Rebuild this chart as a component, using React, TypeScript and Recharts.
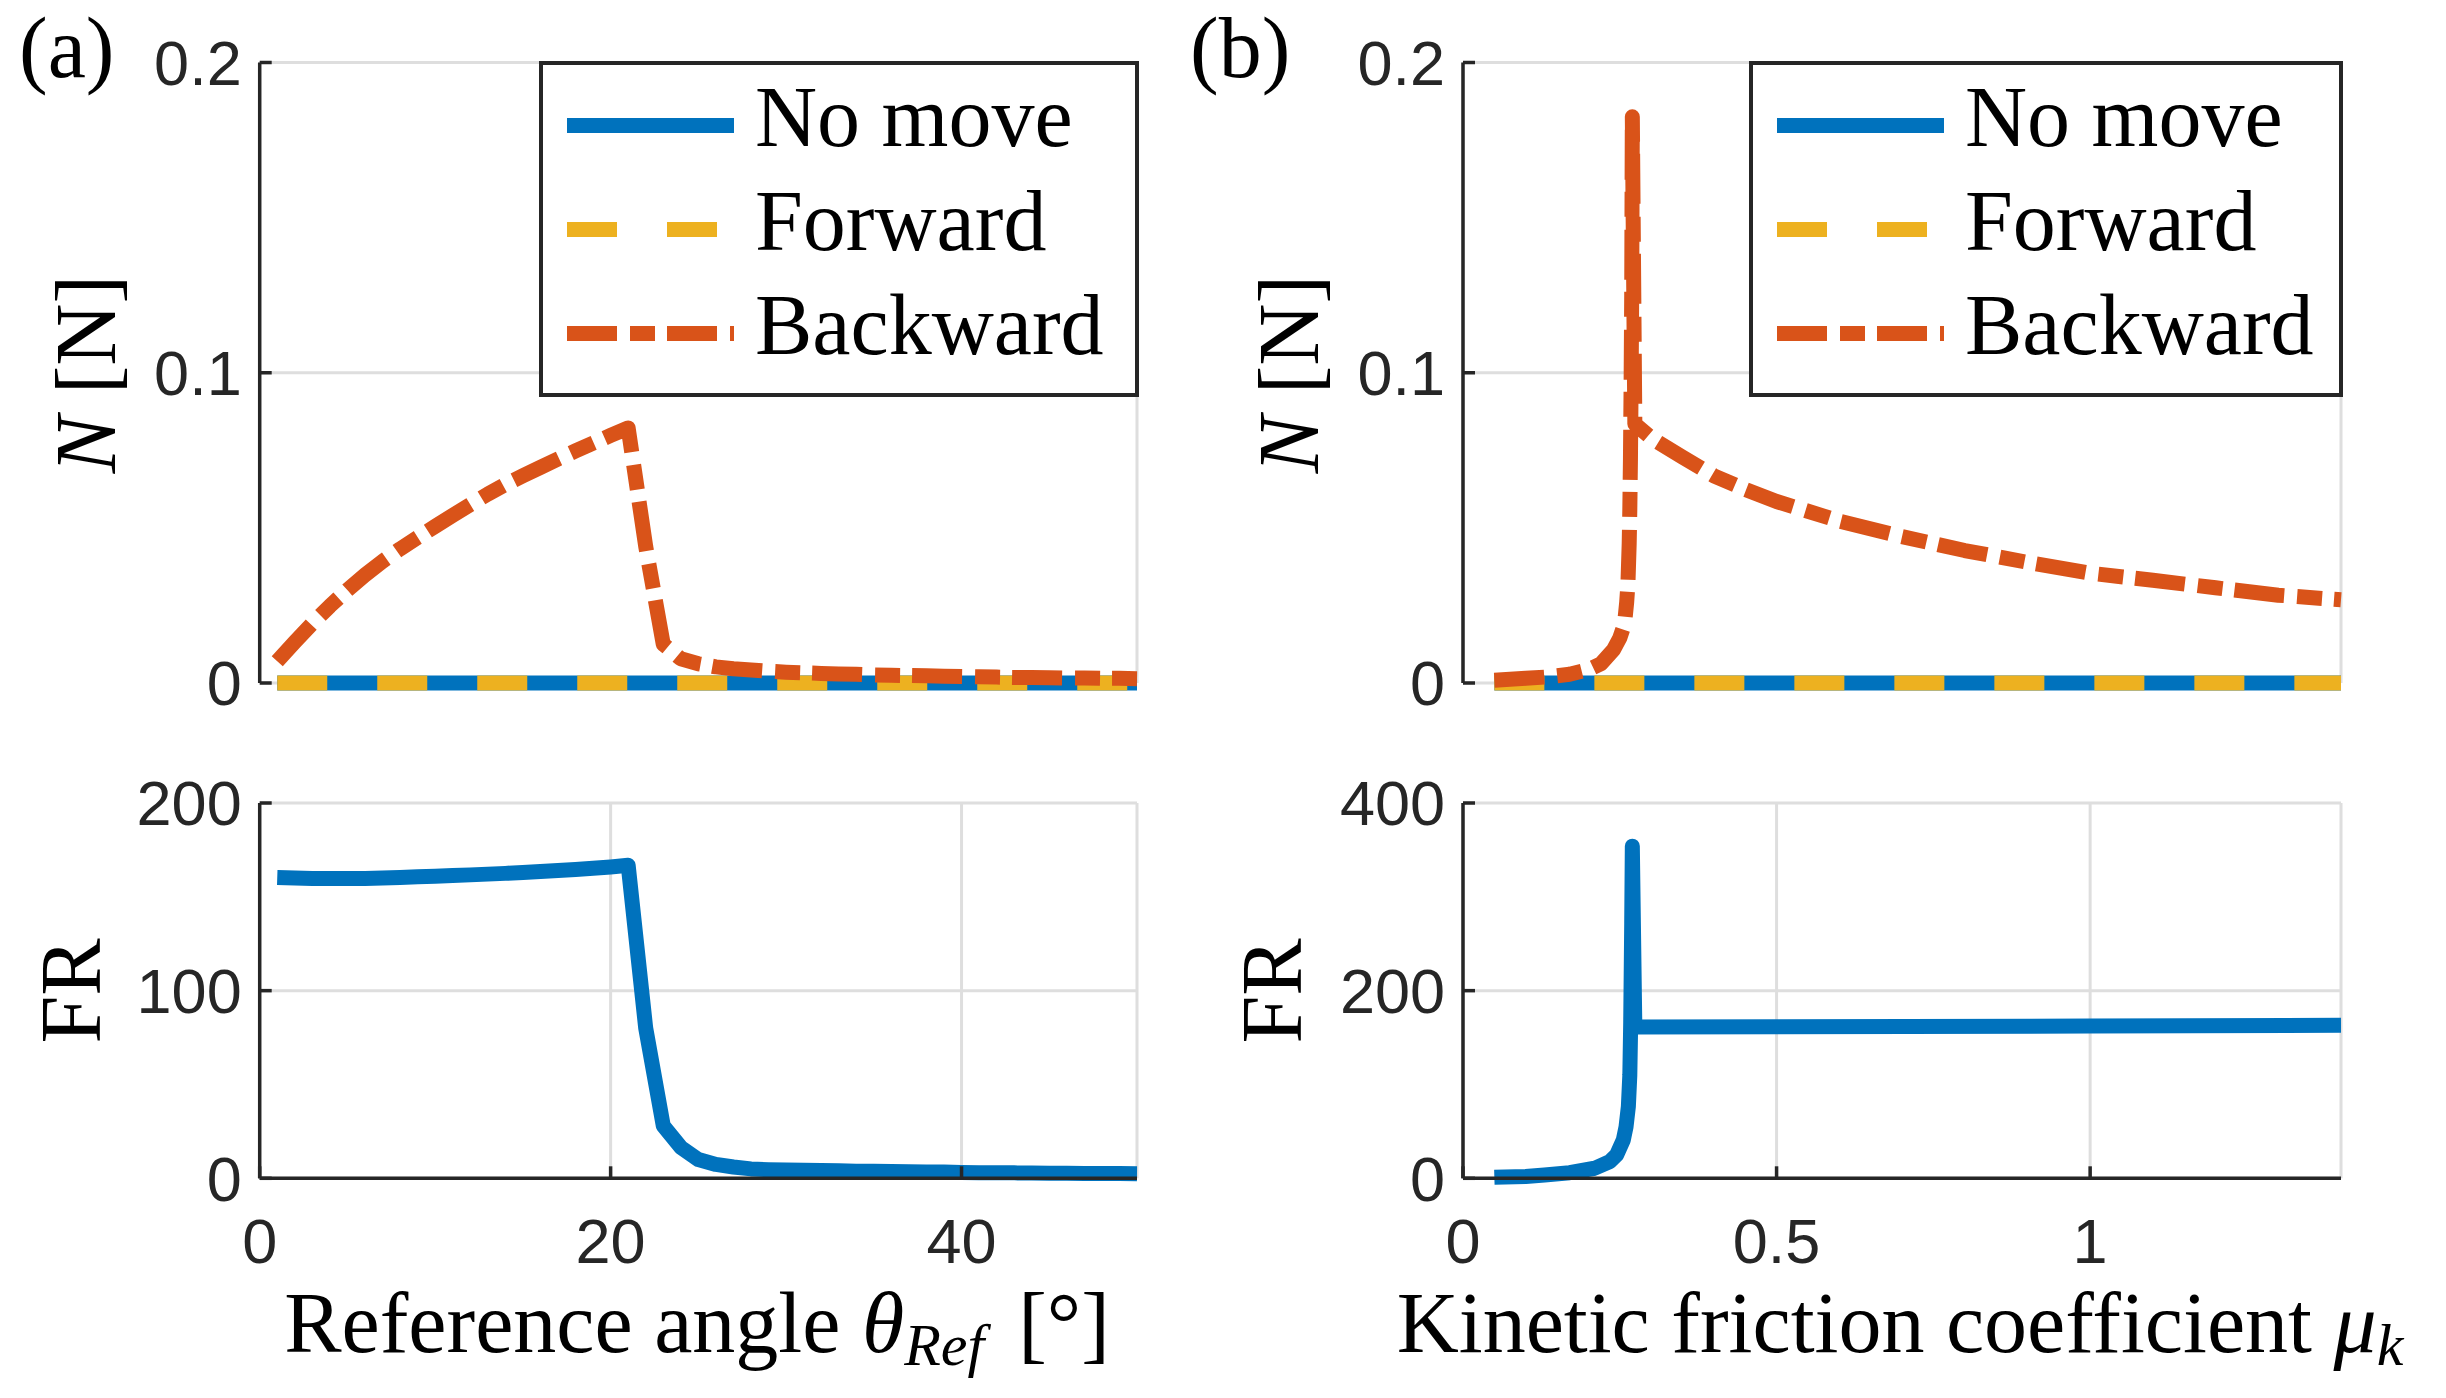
import React from "react"
import { LineChart, Line, XAxis, YAxis, CartesianGrid, Legend } from "recharts"

// MATLAB default colour order
const COLORS: Record<string, string> = {
  "No move": "#0072BD",
  Forward: "#EDB120",
  Backward: "#D95319",
}
// '-' , '--' , '-.' at LineWidth ~15px
const DASHES: Record<string, string | undefined> = {
  "No move": undefined,
  Forward: "50 50",
  Backward: "50 13 25 12",
}
const SERIES_ORDER = ["No move", "Forward", "Backward"]

const AXIS_COLOR = "#262626"
const GRID_COLOR = "#dedede"
const SANS = "'Liberation Sans', Arial, Helvetica, sans-serif"
const SERIF = "'Liberation Serif', 'Times New Roman', serif"

// ---- (a) sweep of the reference angle ----
const thetaRef = [
  1, 2, 3, 4, 5, 6, 7, 8, 9, 10, 11, 12, 13, 14, 15, 16, 17, 18, 19, 20, 21, 22, 23, 24, 25,
  26, 27, 28, 29, 30, 31, 32, 33, 34, 35, 36, 37, 38, 39, 40, 41, 42, 43, 44, 45, 46, 47, 48, 49, 50,
]
const backwardNA = [
  0.007, 0.0132, 0.0192, 0.0248, 0.03, 0.0348, 0.0392, 0.0432, 0.0469, 0.0505,
  0.054, 0.0575, 0.0609, 0.064, 0.0668, 0.0695, 0.0722, 0.0748, 0.0773, 0.0798,
  0.0822, 0.044, 0.0125, 0.0078, 0.0062, 0.0052, 0.0046, 0.0042, 0.0038, 0.0035,
  0.0033, 0.0031, 0.0029, 0.0028, 0.0026, 0.0025, 0.0024, 0.0023, 0.0022, 0.0021,
  0.002, 0.0019, 0.0018, 0.0018, 0.0017, 0.0016, 0.0016, 0.0015, 0.0015, 0.0014,
]
const frA = [
  160.3, 160.0, 159.8, 159.7, 159.7, 159.8, 160.0, 160.3, 160.7, 161.0,
  161.3, 161.7, 162.1, 162.5, 163.0, 163.5, 164.0, 164.6, 165.2, 165.9,
  166.8, 80.0, 28.0, 16.5, 10.0, 7.4, 6.0, 5.0, 4.6, 4.4,
  4.3, 4.1, 4.0, 3.8, 3.7, 3.6, 3.5, 3.4, 3.3, 3.1,
  3.0, 2.9, 2.9, 2.8, 2.7, 2.7, 2.6, 2.5, 2.5, 2.4,
]
// no move / forward stay at zero over the whole sweep
const thetaFlat = [1, 50]
const noMoveNA = [0, 0]
const forwardNA = [0, 0]

// ---- (b) sweep of the kinetic friction coefficient ----
const muBackward = [
  0.05, 0.1, 0.13, 0.17, 0.2, 0.22, 0.24, 0.25, 0.255, 0.258, 0.261, 0.263, 0.265, 0.266, 0.267,
  0.268, 0.269, 0.27, 0.274, 0.3, 0.35, 0.4, 0.45, 0.5, 0.6, 0.7, 0.8, 0.9, 1.0, 1.1, 1.2, 1.3, 1.4,
]
const backwardNB = [
  0.0009, 0.0015, 0.0019, 0.0028, 0.0043, 0.0062, 0.0107, 0.0145, 0.0175, 0.02, 0.026, 0.032, 0.045,
  0.056, 0.072, 0.095, 0.125, 0.1825, 0.0835, 0.079, 0.0728, 0.0668, 0.0624, 0.0585, 0.0522, 0.0472,
  0.0427, 0.0389, 0.0354, 0.0331, 0.0307, 0.0283, 0.0268,
]
const muFR = [
  0.05, 0.1, 0.13, 0.17, 0.21, 0.234, 0.245, 0.2557, 0.26, 0.2637, 0.266, 0.2674, 0.269, 0.27, 0.274,
  0.5, 1.0, 1.4,
]
const frB = [
  1.0, 2.0, 3.6, 6.0, 10.7, 17.8, 25.0, 41.0, 55.0, 76.6, 110.0, 165.6, 272.0, 354.0, 161.2,
  161.6, 162.3, 163.0,
]
const muFlat = [0.05, 1.4]
const noMoveNB = [0, 0]
const forwardNB = [0, 0]

// ---- ticks ----
const xTicksATop = [0, 10, 20, 30, 40, 50]
const xTicksABottom = [0, 20, 40]
const xTicksB = [0, 0.5, 1]
const nTicks = [0, 0.1, 0.2]
const frTicksA = [0, 100, 200]
const frTicksB = [0, 200, 400]

const pts = (xs: number[], ys: number[]) => xs.map((x, i) => ({ x, y: ys[i] }))

const tickFont = { fontSize: 63, fill: AXIS_COLOR, fontFamily: SANS }
const frameLine = { stroke: AXIS_COLOR, strokeWidth: 3.5 }

type TitlePart = { text: string; italic?: boolean; sub?: boolean; gap?: number }
type TitleSpec = { x: number; y: number; vertical?: boolean; parts: TitlePart[] }

// LaTeX-ish axis title (italic symbols + subscripts)
function AxisTitle({ spec }: { spec: TitleSpec }) {
  let shift = 0
  return (
    <text
      x={spec.x}
      y={spec.y}
      textAnchor="middle"
      fontFamily={SERIF}
      fontSize={86}
      fill="#000"
      transform={spec.vertical ? `rotate(-90 ${spec.x} ${spec.y})` : undefined}
    >
      {spec.parts.map((p, i) => {
        const target = p.sub ? 13 : 0
        const dy = target - shift
        shift = target
        return (
          <tspan
            key={i}
            dy={dy || undefined}
            dx={p.gap}
            fontStyle={p.italic ? "italic" : undefined}
            fontSize={p.sub ? 60 : undefined}
          >
            {p.text}
          </tspan>
        )
      })}
    </text>
  )
}

function LegendBox({ payload, boxWidth }: any) {
  const entries = SERIES_ORDER.map((n) => (payload ?? []).find((p: any) => p.value === n)).filter(Boolean)
  return (
    <div
      style={{
        width: boxWidth,
        height: 336,
        boxSizing: "border-box",
        border: `4px solid ${AXIS_COLOR}`,
        background: "#fff",
      }}
    >
      <svg width={boxWidth - 8} height={328} style={{ display: "block" }}>
        {entries.map((entry: any, i: number) => {
          const cy = 60.5 + i * 104
          return (
            <g key={entry.value}>
              <line
                x1={24}
                x2={191}
                y1={cy}
                y2={cy}
                stroke={COLORS[entry.value]}
                strokeWidth={15}
                strokeDasharray={DASHES[entry.value]}
              />
              <text x={212} y={cy + 20} fontFamily={SERIF} fontSize={86} fill="#000">
                {entry.value}
              </text>
            </g>
          )
        })}
      </svg>
    </div>
  )
}

function seriesLine(name: string, data: { x: number; y: number }[]) {
  return (
    <Line
      key={name}
      data={data}
      dataKey="y"
      name={name}
      type="linear"
      stroke={COLORS[name]}
      strokeWidth={15}
      strokeDasharray={DASHES[name]}
      strokeLinejoin="round"
      dot={false}
      activeDot={false}
      isAnimationActive={false}
    />
  )
}

type PanelProps = {
  left: number
  top: number
  height: number
  margin: { top: number; right: number; bottom: number; left: number }
  xDomain: number[]
  xTicks: number[]
  xLabels: boolean
  yDomain: number[]
  yTicks: number[]
  yTitle: TitleSpec
  xTitle?: TitleSpec
  legendBox?: { left: number; width: number }
  children: React.ReactNode
}

function Panel({
  left,
  top,
  height,
  margin,
  xDomain,
  xTicks,
  xLabels,
  yDomain,
  yTicks,
  yTitle,
  xTitle,
  legendBox,
  children,
}: PanelProps) {
  return (
    <div style={{ position: "absolute", left, top }}>
      <LineChart width={1223} height={height} margin={margin}>
        <CartesianGrid stroke={GRID_COLOR} strokeWidth={3} />
        <XAxis
          type="number"
          dataKey="x"
          domain={xDomain}
          ticks={xTicks}
          interval={0}
          height={xLabels ? 100 : 0}
          tick={xLabels ? tickFont : false}
          tickSize={-12}
          tickMargin={52}
          axisLine={frameLine}
          tickLine={frameLine}
          label={xTitle ? <AxisTitle spec={xTitle} /> : undefined}
        />
        <XAxis
          xAxisId="box"
          orientation="top"
          type="number"
          domain={xDomain}
          ticks={xTicks}
          interval={0}
          height={0}
          tick={false}
          tickSize={-12}
          axisLine={frameLine}
          tickLine={frameLine}
        />
        <YAxis
          type="number"
          domain={yDomain}
          ticks={yTicks}
          interval={0}
          width={160}
          tick={tickFont}
          tickSize={-12}
          tickMargin={30}
          axisLine={frameLine}
          tickLine={frameLine}
          label={<AxisTitle spec={yTitle} />}
        />
        <YAxis
          yAxisId="box"
          orientation="right"
          type="number"
          domain={yDomain}
          ticks={yTicks}
          interval={0}
          width={0}
          tick={false}
          tickSize={-12}
          axisLine={frameLine}
          tickLine={frameLine}
        />
        {children}
        {legendBox && (
          <Legend
            layout="vertical"
            align="center"
            verticalAlign="middle"
            content={<LegendBox boxWidth={legendBox.width} />}
            wrapperStyle={{ left: legendBox.left, top: 60.5, width: legendBox.width, height: 336 }}
          />
        )}
      </LineChart>
    </div>
  )
}

const nTitle = (x: number): TitleSpec => ({
  x,
  y: 374,
  vertical: true,
  parts: [{ text: "N", italic: true }, { text: " [N]" }],
})
const frTitle = (x: number): TitleSpec => ({ x, y: 291, vertical: true, parts: [{ text: "FR" }] })

export default function App() {
  return (
    <div style={{ position: "absolute", left: 0, top: 0, width: 2446, height: 1398, background: "#fff" }}>
      {/* (a) bottom: FR */}
      <Panel
        left={0}
        top={700}
        height={698}
        margin={{ top: 103, right: 86, bottom: 119.7, left: 99.7 }}
        xDomain={[0, 50]}
        xTicks={xTicksABottom}
        xLabels
        yDomain={[0, 200]}
        yTicks={frTicksA}
        yTitle={frTitle(100)}
        xTitle={{
          x: 697,
          y: 652,
          parts: [
            { text: "Reference angle " },
            { text: "θ", italic: true },
            { text: "Ref", italic: true, sub: true },
            { text: "[°]", gap: 34 },
          ],
        }}
      >
        {seriesLine("No move", pts(thetaRef, frA))}
      </Panel>

      {/* (b) bottom: FR */}
      <Panel
        left={1223}
        top={700}
        height={698}
        margin={{ top: 103, right: 105, bottom: 119.7, left: 80 }}
        xDomain={[0, 1.4]}
        xTicks={xTicksB}
        xLabels
        yDomain={[0, 400]}
        yTicks={frTicksB}
        yTitle={frTitle(78)}
        xTitle={{
          x: 677,
          y: 652,
          parts: [
            { text: "Kinetic friction coefficient " },
            { text: "μ", italic: true },
            { text: "k", italic: true, sub: true },
          ],
        }}
      >
        {seriesLine("No move", pts(muFR, frB))}
      </Panel>

      {/* (a) top: normal force */}
      <Panel
        left={0}
        top={0}
        height={740}
        margin={{ top: 62.5, right: 86, bottom: 57, left: 99.7 }}
        xDomain={[0, 50]}
        xTicks={xTicksATop}
        xLabels={false}
        yDomain={[0, 0.2]}
        yTicks={nTicks}
        yTitle={nTitle(115)}
        legendBox={{ left: 539, width: 600 }}
      >
        {seriesLine("No move", pts(thetaFlat, noMoveNA))}
        {seriesLine("Forward", pts(thetaFlat, forwardNA))}
        {seriesLine("Backward", pts(thetaRef, backwardNA))}
      </Panel>

      {/* (b) top: normal force */}
      <Panel
        left={1223}
        top={0}
        height={740}
        margin={{ top: 62.5, right: 105, bottom: 57, left: 80 }}
        xDomain={[0, 1.4]}
        xTicks={xTicksB}
        xLabels={false}
        yDomain={[0, 0.2]}
        yTicks={nTicks}
        yTitle={nTitle(95)}
        legendBox={{ left: 526, width: 594 }}
      >
        {seriesLine("No move", pts(muFlat, noMoveNB))}
        {seriesLine("Forward", pts(muFlat, forwardNB))}
        {seriesLine("Backward", pts(muBackward, backwardNB))}
      </Panel>

      <svg
        width={2446}
        height={1398}
        style={{ position: "absolute", left: 0, top: 0, pointerEvents: "none" }}
      >
        <text x={19} y={77} fontFamily={SERIF} fontSize={86} fill="#000">
          (a)
        </text>
        <text x={1190} y={77} fontFamily={SERIF} fontSize={86} fill="#000">
          (b)
        </text>
      </svg>
    </div>
  )
}
